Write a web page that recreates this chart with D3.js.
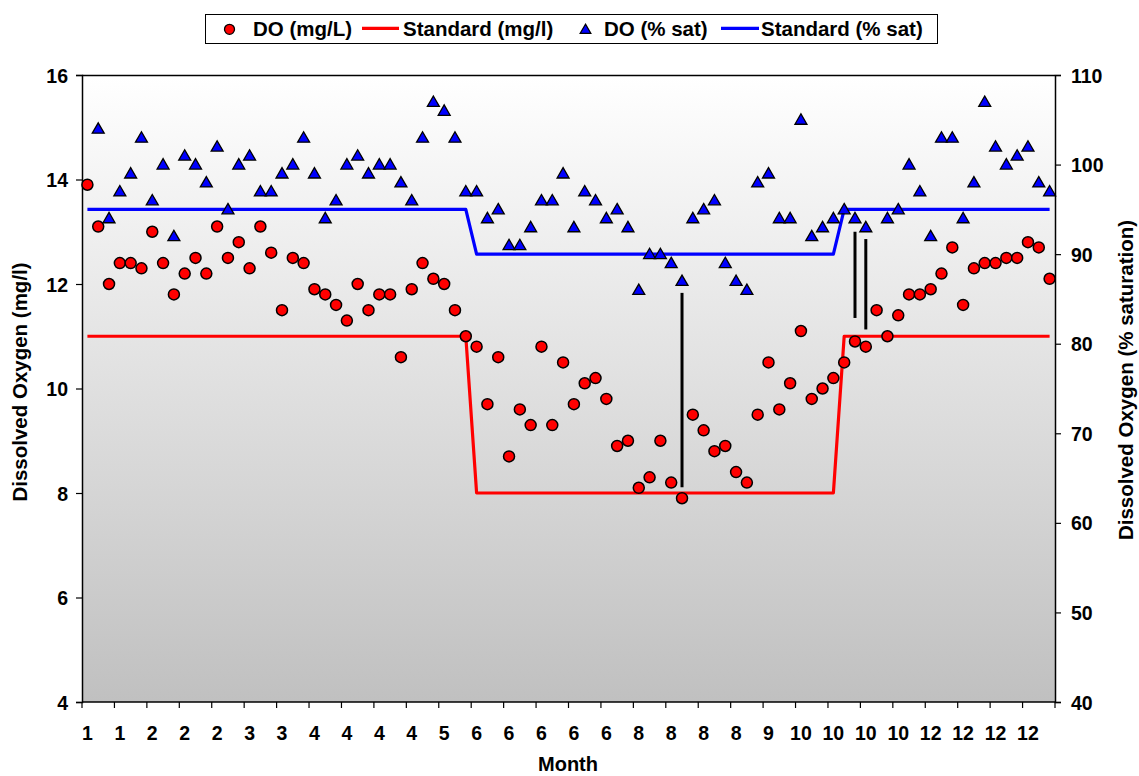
<!DOCTYPE html>
<html>
<head>
<meta charset="utf-8">
<script src="https://cdn.jsdelivr.net/npm/d3@7"></script>
<style>
  html, body { margin: 0; padding: 0; background: #ffffff; }
  svg { display: block; }
  text { font-family: "Liberation Sans", Arial, Helvetica, sans-serif; font-weight: bold; fill: #000; }
</style>
</head>
<body>
<svg id="chart" width="1139" height="776"></svg>
<script>
// ---------------- DATA ----------------
// x-axis tick labels (one label every third sample)
const monthLabels = ["1","1","2","2","2","3","3","4","4","4","4","5","6","6","6","6","6",
                     "8","8","8","8","9","10","10","10","10","12","12","12","12"];
const labelEvery = 3;

// Dissolved oxygen, mg/L (left axis)
const doMg = [13.9,13.1,12.0,12.4,12.4,12.3,13.0,12.4,11.8,12.2,
              12.5,12.2,13.1,12.5,12.8,12.3,13.1,12.6,11.5,12.5,
              12.4,11.9,11.8,11.6,11.3,12.0,11.5,11.8,11.8,10.6,
              11.9,12.4,12.1,12.0,11.5,11.0,10.8,9.7,10.6,8.7,
              9.6,9.3,10.8,9.3,10.5,9.7,10.1,10.2,9.8,8.9,
              9.0,8.1,8.3,9.0,8.2,7.9,9.5,9.2,8.8,8.9,
              8.4,8.2,9.5,10.5,9.6,10.1,11.1,9.8,10.0,10.2,
              10.5,10.9,10.8,11.5,11.0,11.4,11.8,11.8,11.9,12.2,
              12.7,11.6,12.3,12.4,12.4,12.5,12.5,12.8,12.7,12.1];

// Standard, mg/l (left axis)
const stdMg = [11,11,11,11,11,11,11,11,11,11,11,11,11,11,11,11,11,11,
               11,11,11,11,11,11,11,11,11,11,11,11,11,11,11,11,11,11,
               8,8,8,8,8,8,8,8,8,8,8,8,8,8,8,8,8,8,8,8,8,8,8,8,8,8,8,8,8,8,8,8,8,8,
               11,11,11,11,11,11,11,11,11,11,11,11,11,11,11,11,11,11,11,11];

// Dissolved oxygen, % saturation (right axis); null = no sample
const doSat = [null,104,94,97,99,103,96,100,92,101,
               100,98,102,95,100,101,97,97,99,100,
               103,99,94,96,100,101,99,100,100,98,
               96,103,107,106,103,97,97,94,95,91,
               91,93,96,96,99,93,97,96,94,95,
               93,86,90,90,89,87,94,95,96,89,
               87,86,98,99,94,94,105,92,93,94,
               95,94,93,null,94,95,100,97,92,103,
               103,94,98,107,102,100,101,102,98,97];

// Standard, % saturation (right axis)
const stdSat = [95,95,95,95,95,95,95,95,95,95,95,95,95,95,95,95,95,95,
                95,95,95,95,95,95,95,95,95,95,95,95,95,95,95,95,95,95,
                90,90,90,90,90,90,90,90,90,90,90,90,90,90,90,90,90,90,90,90,90,90,90,90,90,90,90,90,90,90,90,90,90,90,
                95,95,95,95,95,95,95,95,95,95,95,95,95,95,95,95,95,95,95,95];

// Black marker lines drawn on the chart (sample index, from / to in mg/l)
const markIndex = [55, 71, 72];
const markFrom  = [11.83, 13.0, 12.86];
const markTo    = [8.11, 11.35, 11.13];

const leftTicks  = [4,6,8,10,12,14,16];
const rightTicks = [40,50,60,70,80,90,100,110];

const legendLabels = ["DO (mg/L)", "Standard (mg/l)", "DO (% sat)", "Standard (% sat)"];

// ---------------- CHART ----------------
const svg = d3.select("#chart");
const L = 82, R = 1055, T = 75, B = 702;
const n = doMg.length;

const x = d3.scaleBand().domain(d3.range(n)).range([L, R]).padding(0);
const bw = x.bandwidth();
const cx = i => x(i) + bw / 2;
const yL = d3.scaleLinear().domain([4, 16]).range([B, T]);
const yR = d3.scaleLinear().domain([40, 110]).range([B, T]);

// background gradient
const defs = svg.append("defs");
const grad = defs.append("linearGradient").attr("id", "bg")
  .attr("x1", 0).attr("y1", 0).attr("x2", 0).attr("y2", 1);
grad.append("stop").attr("offset", "0%").attr("stop-color", "#ffffff");
grad.append("stop").attr("offset", "100%").attr("stop-color", "#c0c0c0");

svg.append("rect").attr("x", L).attr("y", T).attr("width", R - L).attr("height", B - T)
  .attr("fill", "url(#bg)");
// top border of plot area
svg.append("line").attr("x1", L).attr("x2", R).attr("y1", T + 0.5).attr("y2", T + 0.5)
  .attr("stroke", "#000").attr("stroke-width", 1.5);

// left axis
const gL = svg.append("g").attr("transform", `translate(${L},0)`)
  .call(d3.axisLeft(yL).tickValues(leftTicks).tickSize(6).tickPadding(8).tickFormat(d3.format("d")));
// right axis
const gR = svg.append("g").attr("transform", `translate(${R},0)`)
  .call(d3.axisRight(yR).tickValues(rightTicks).tickSize(6).tickPadding(10).tickFormat(d3.format("d")));
[gL, gR].forEach(g => {
  g.selectAll("path.domain").attr("stroke", "#000").attr("stroke-width", 1.5);
  g.selectAll(".tick line").attr("stroke", "#000").attr("stroke-width", 1.2);
  g.selectAll(".tick text").style("font-size", "19.5px").style("font-family", "'Liberation Sans', Arial, sans-serif")
    .style("font-weight", "bold").attr("fill", "#000").attr("dy", "0.36em");
});

// bottom axis (manual: ticks between groups, label at first sample of each group)
const gB = svg.append("g");
gB.append("line").attr("x1", L).attr("x2", R).attr("y1", B).attr("y2", B)
  .attr("stroke", "#000").attr("stroke-width", 1.5);
const nGroups = Math.ceil(n / labelEvery);
for (let k = 0; k <= nGroups; k++) {
  const idx = Math.min(k * labelEvery, n);
  const xt = idx < n ? x(idx) : R;
  gB.append("line").attr("x1", xt).attr("x2", xt).attr("y1", B).attr("y2", B + 6)
    .attr("stroke", "#000").attr("stroke-width", 1.2);
}
gB.selectAll("text.xl").data(monthLabels).enter().append("text")
  .attr("class", "xl")
  .attr("x", (d, k) => cx(k * labelEvery))
  .attr("y", 740)
  .attr("text-anchor", "middle")
  .style("font-size", "19.5px")
  .text(d => d);

// axis titles
svg.append("text").attr("x", 568).attr("y", 771).attr("text-anchor", "middle")
  .style("font-size", "20px").text("Month");
svg.append("text").attr("transform", `translate(27,382) rotate(-90)`).attr("text-anchor", "middle")
  .style("font-size", "20.5px").text("Dissolved Oxygen (mg/l)");
svg.append("text").attr("transform", `translate(1133,380) rotate(-90)`).attr("text-anchor", "middle")
  .style("font-size", "20.5px").text("Dissolved Oxygen (% saturation)");

// standard lines
const lineL = d3.line().x((d, i) => cx(i)).y(d => yL(d));
const lineR = d3.line().x((d, i) => cx(i)).y(d => yR(d));
svg.append("path").datum(stdMg).attr("d", lineL).attr("fill", "none")
  .attr("stroke", "#ff0000").attr("stroke-width", 3.2).attr("stroke-linejoin", "round");
svg.append("path").datum(stdSat).attr("d", lineR).attr("fill", "none")
  .attr("stroke", "#0000ff").attr("stroke-width", 3.2).attr("stroke-linejoin", "round");

// triangles (% sat)
const tri = d3.symbol().type(d3.symbolTriangle).size(62);
svg.append("g").selectAll("path").data(doSat.map((v, i) => ({v, i})).filter(d => d.v !== null))
  .enter().append("path")
  .attr("d", tri)
  .attr("transform", d => `translate(${cx(d.i)},${yR(d.v) + 1})`)
  .attr("fill", "#0000ff").attr("stroke", "#000").attr("stroke-width", 1.3);

// circles (mg/L)
svg.append("g").selectAll("circle").data(doMg).enter().append("circle")
  .attr("cx", (d, i) => cx(i)).attr("cy", d => yL(d)).attr("r", 5.5)
  .attr("fill", "#ff0000").attr("stroke", "#000").attr("stroke-width", 1.5);

// black marker lines
svg.append("g").selectAll("line").data(markIndex).enter().append("line")
  .attr("x1", d => cx(d)).attr("x2", d => cx(d))
  .attr("y1", (d, j) => yL(markFrom[j])).attr("y2", (d, j) => yL(markTo[j]))
  .attr("stroke", "#000").attr("stroke-width", 3);

// legend
const lg = svg.append("g");
lg.append("rect").attr("x", 205.5).attr("y", 14.5).attr("width", 732).attr("height", 29)
  .attr("fill", "#fff").attr("stroke", "#000").attr("stroke-width", 1);
const ly = 29.3;
lg.append("circle").attr("cx", 229.5).attr("cy", ly).attr("r", 5)
  .attr("fill", "#ff0000").attr("stroke", "#000").attr("stroke-width", 1.3);
lg.append("line").attr("x1", 362).attr("x2", 399).attr("y1", ly - 1).attr("y2", ly - 1)
  .attr("stroke", "#ff0000").attr("stroke-width", 3.2);
lg.append("path").attr("d", d3.symbol().type(d3.symbolTriangle).size(50))
  .attr("transform", `translate(585.5,${ly + 1})`)
  .attr("fill", "#0000ff").attr("stroke", "#000").attr("stroke-width", 1.2);
lg.append("line").attr("x1", 721).attr("x2", 759).attr("y1", ly - 1).attr("y2", ly - 1)
  .attr("stroke", "#0000ff").attr("stroke-width", 3.2);
const legendX = [253, 403, 604, 761];
lg.selectAll("text").data(legendLabels).enter().append("text")
  .attr("x", (d, i) => legendX[i]).attr("y", 36.3)
  .style("font-size", "20.5px").text(d => d);
</script>
</body>
</html>
